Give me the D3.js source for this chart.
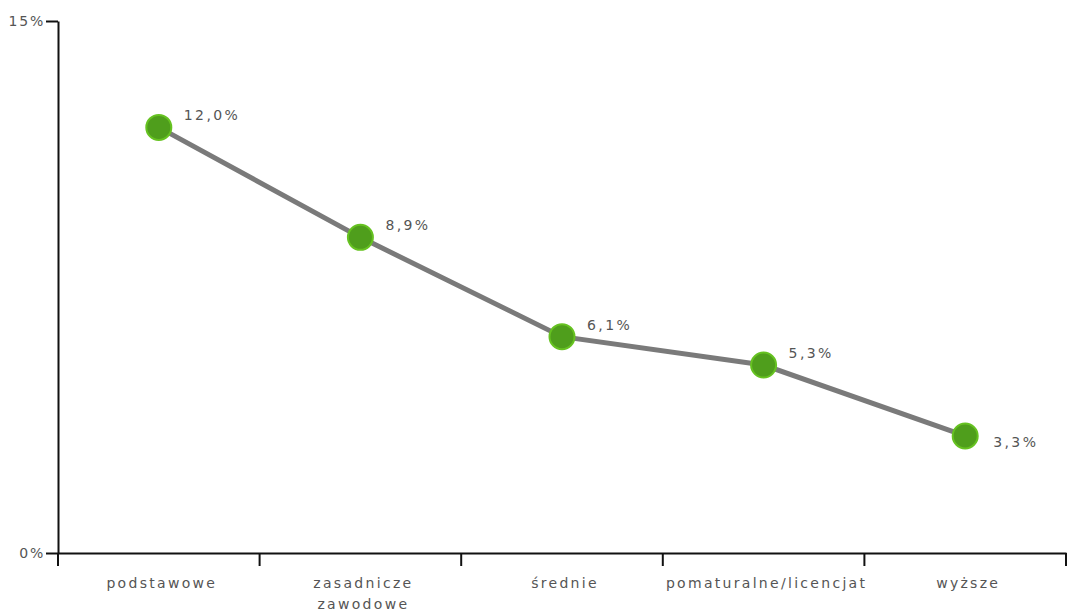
<!DOCTYPE html>
<html><head><meta charset="utf-8">
<script src="https://cdn.jsdelivr.net/npm/d3@7/dist/d3.min.js"></script>
<style>body{margin:0;background:#fff}svg{display:block}text{font-family:"DejaVu Sans",sans-serif}</style>
</head><body>
<svg id="c" width="1067" height="616"></svg>
<script>
const categories = ["podstawowe", "zasadnicze zawodowe", "średnie", "pomaturalne/licencjat", "wyższe"];
const values = [12.0, 8.9, 6.1, 5.3, 3.3];
const valueLabels = ["12,0%", "8,9%", "6,1%", "5,3%", "3,3%"];
const yTicks = [0, 15];
const yTickLabels = ["0%", "15%"];

const svg = d3.select("#c");
const m = {left: 58, right: 1066, top: 21, bottom: 553};
const x = d3.scaleBand().domain(categories).range([m.left, m.right]);
const y = d3.scaleLinear().domain([0, 15]).range([m.bottom, m.top]);
const cx = d => x(d) + x.bandwidth() / 2;

// axes
const gy = svg.append("g").attr("transform", `translate(${m.left},0)`)
  .call(d3.axisLeft(y).tickValues(yTicks).tickFormat((d, i) => yTickLabels[i]).tickSize(12).tickSizeOuter(0));
gy.select(".domain").attr("stroke", "#111").attr("stroke-width", 2);
gy.selectAll(".tick line").attr("stroke", "#111").attr("stroke-width", 2);
gy.selectAll(".tick text").attr("x", -13).attr("dy", "0.35em").attr("fill", "#555")
  .style("font-size", "14px").style("letter-spacing", "1.8px").style("font-family", "DejaVu Sans");

const gx = svg.append("g").attr("transform", `translate(0,${m.bottom})`)
  .call(d3.axisBottom(x).tickSize(0).tickSizeOuter(0).tickFormat(""));
gx.select(".domain").attr("stroke", "#111").attr("stroke-width", 2);
// band boundary ticks
const bounds = categories.map(c => x(c)).concat([m.right]);
svg.append("g").selectAll("line").data(bounds).join("line")
  .attr("x1", d => d).attr("x2", d => d).attr("y1", m.bottom).attr("y2", m.bottom + 13)
  .attr("stroke", "#111").attr("stroke-width", 2);

// category labels
svg.append("g").selectAll("text").data(categories).join("text")
  .attr("text-anchor", "middle").attr("fill", "#555").style("font-size", "14px").style("letter-spacing", "2.3px")
  .each(function(d) {
    const t = d3.select(this);
    const words = d === "zasadnicze zawodowe" ? d.split(" ") : [d];
    words.forEach((w, i) => t.append("tspan").attr("x", cx(d) + 3).attr("y", 588 + i * 21).text(w));
  });

// line
svg.append("path").datum(categories)
  .attr("fill", "none").attr("stroke", "#7a7a7a").attr("stroke-width", 5)
  .attr("d", d3.line().x(d => cx(d)).y((d, i) => y(values[i])));

// points
svg.append("g").selectAll("circle").data(categories).join("circle")
  .attr("cx", d => cx(d)).attr("cy", (d, i) => y(values[i])).attr("r", 12.5)
  .attr("fill", "#4f9e1c").attr("stroke", "#66c221").attr("stroke-width", 2);

// value labels
svg.append("g").selectAll("text").data(categories).join("text")
  .attr("x", (d, i) => cx(d) + (i === values.length - 1 ? 28 : 25))
  .attr("y", (d, i) => y(values[i]) + (i === values.length - 1 ? 11 : -7))
  .attr("fill", "#555").style("font-size", "14px").style("letter-spacing", "2.4px")
  .text((d, i) => valueLabels[i]);
</script>
</body></html>
